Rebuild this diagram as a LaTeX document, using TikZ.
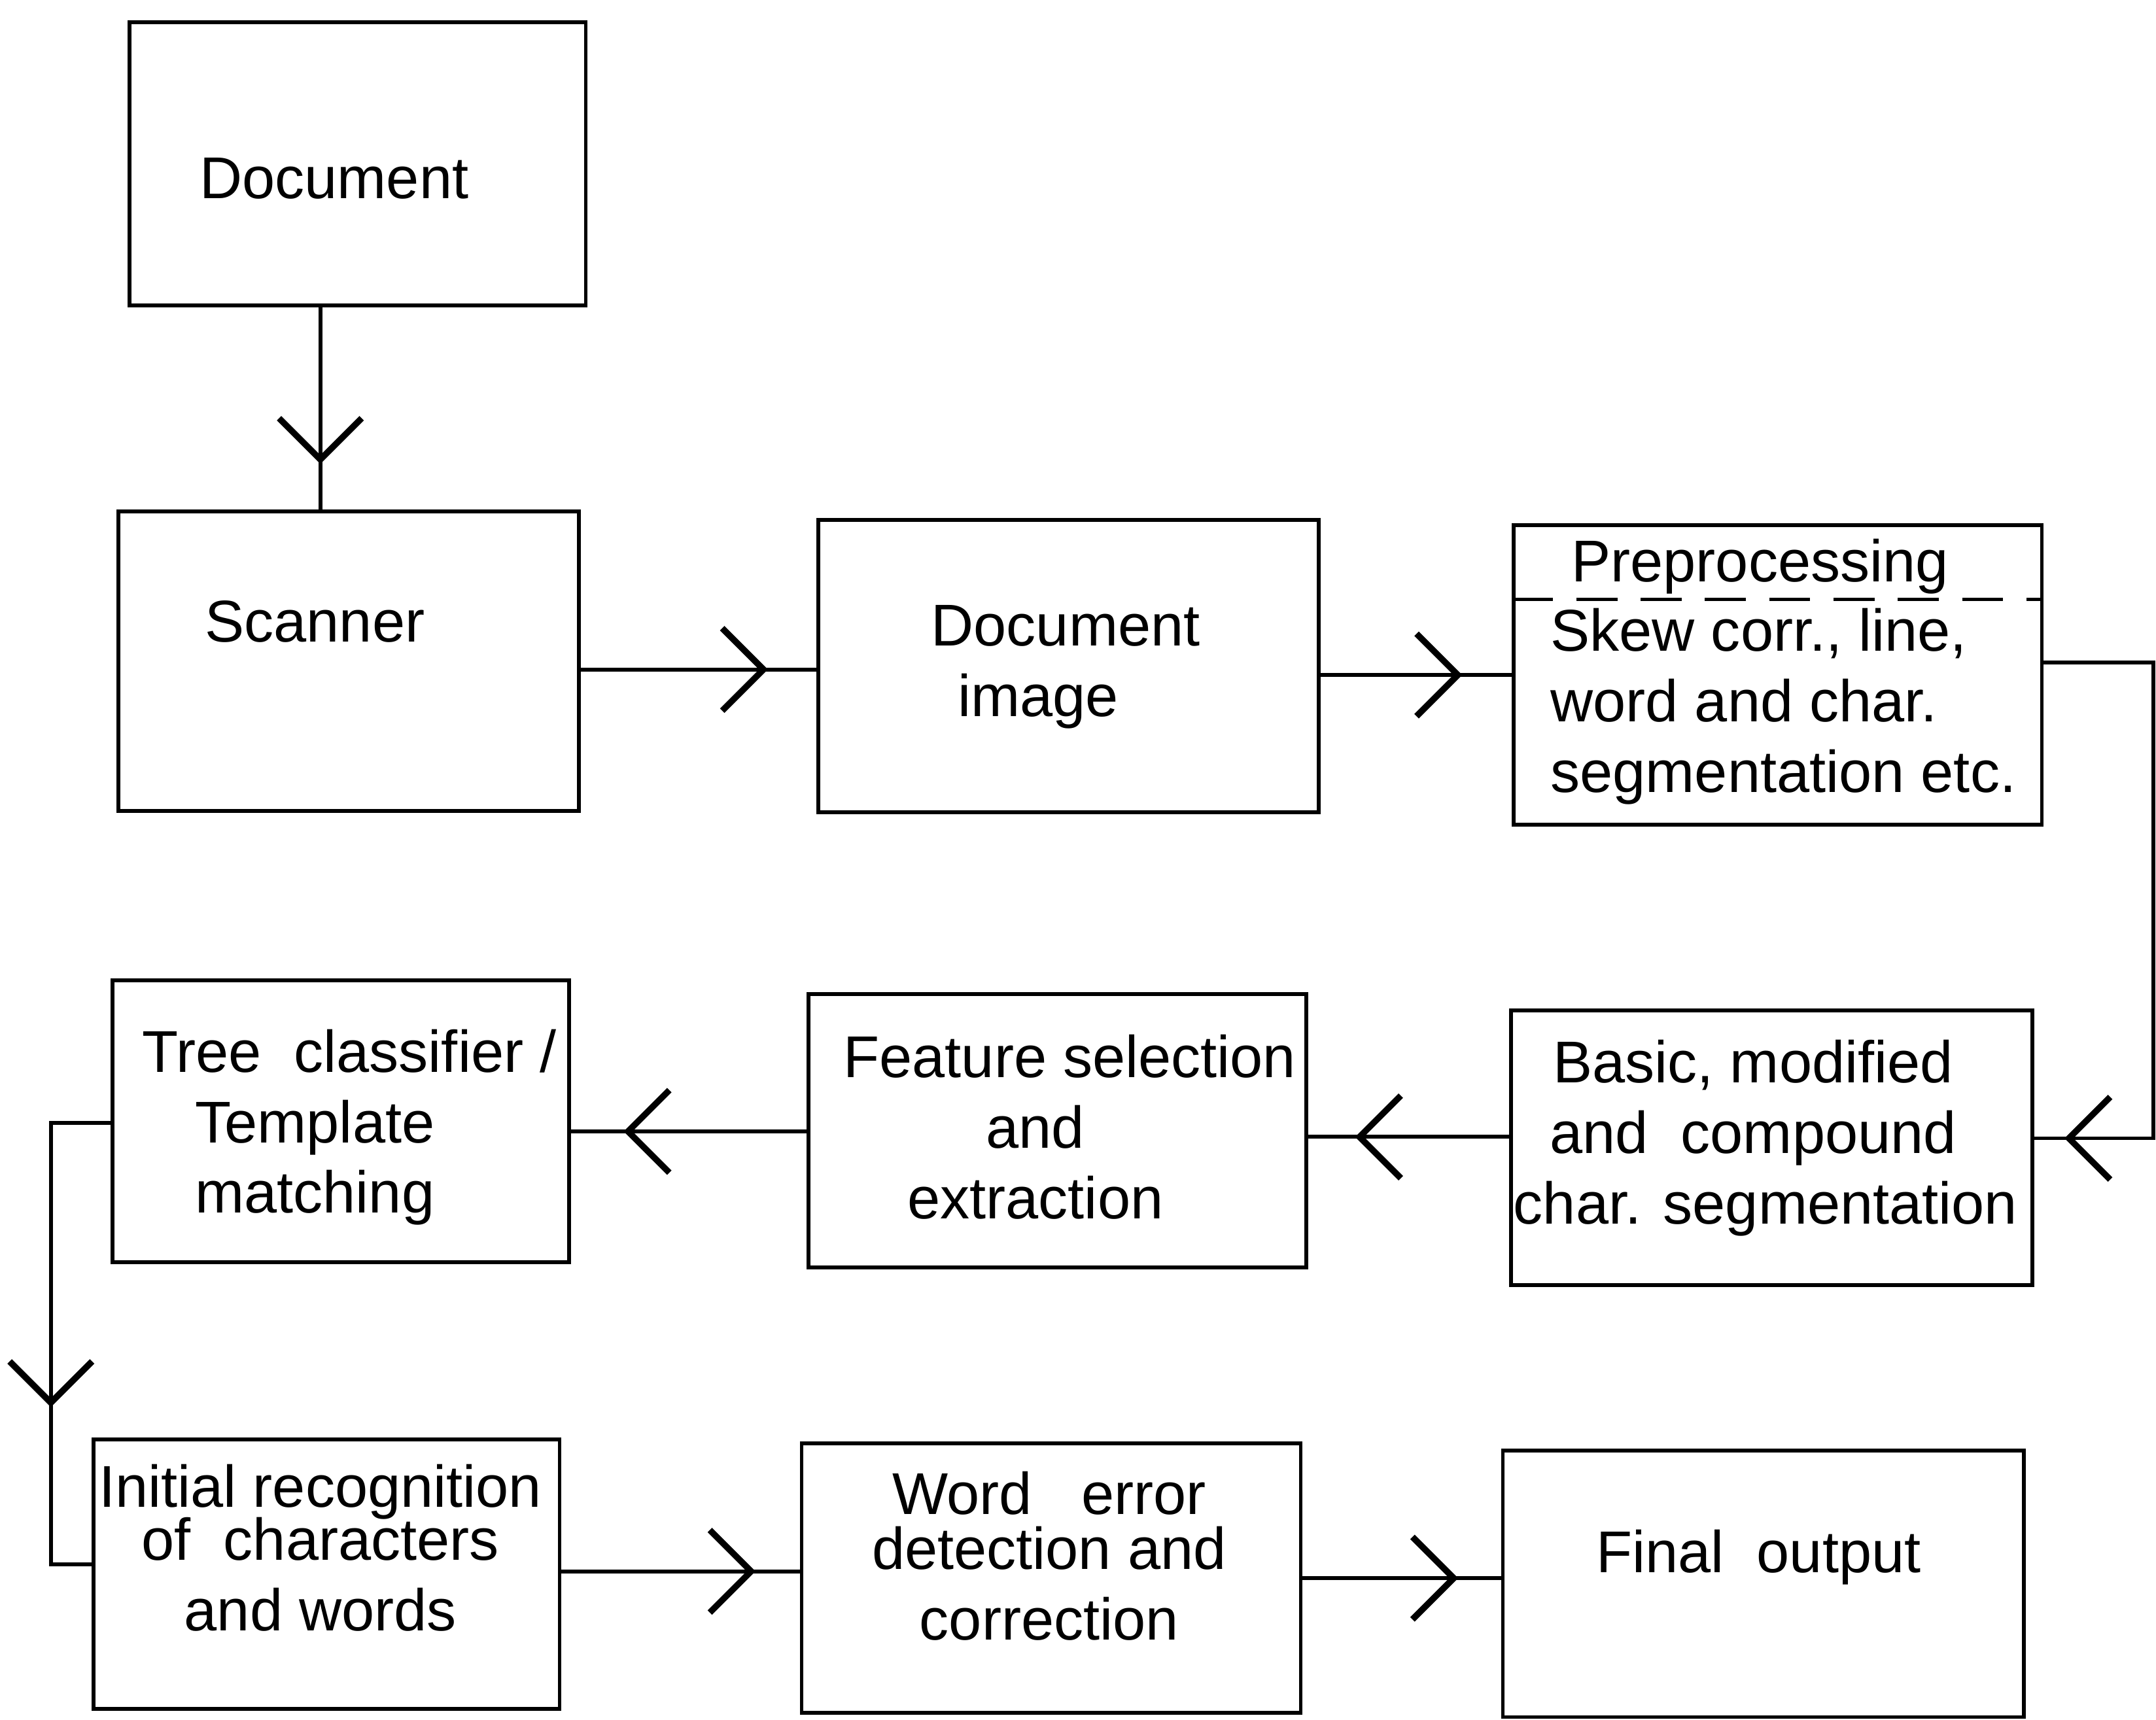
\documentclass[tikz,border=0pt]{standalone}
\usepackage{fontspec}
\setmainfont{Liberation Sans}
\usetikzlibrary{arrows.meta,decorations.markings,fit,calc}

\begin{document}
\begin{tikzpicture}[x=0.01cm,y=-0.01cm,
  box/.style={draw, line width=0.8pt, inner sep=0pt, fit={#1}},
  lbl/.style={inner sep=0pt, align=center, font=\fontsize{12.2}{14.6}\selectfont},
  wire/.style={line width=0.8pt},
  flow/.style={wire, postaction={decorate},
    decoration={markings, mark=at position #1 with
      {\arrow{Straight Barb[length=0.3cm,width=0.6cm,line width=1.3pt]}}}},
]
\useasboundingbox (0,0) rectangle (1568,1251);

% ---- boxes ----
\node[box={(94,16) (426,222)}]     (doc)   {};
\node[box={(86,372) (421,590)}]    (scan)  {};
\node[box={(595,378) (959,591)}]   (img)   {};
\node[box={(1101,382) (1485,600)}] (pre)   {};
\node[box={(82,713) (414,918)}]    (tree)  {};
\node[box={(588,723) (950,922)}]   (feat)  {};
\node[box={(1099,735) (1478,935)}] (basic) {};
\node[box={(68,1047) (407,1243)}]  (init)  {};
\node[box={(583,1050) (946,1246)}] (word)  {};
\node[box={(1093,1055) (1472,1249)}] (final) {};

% dashed rule under the preprocessing heading
\coordinate (sep) at (0,436);
\draw[wire, dash pattern=on 8.5pt off 4.8pt] (sep -| pre.west) -- (sep -| pre.east);

% ---- texts ----
\node[lbl] (tdoc)   at (243,130) {Document};
\node[lbl] (tscan)  at (229,452) {Scanner};
\node[lbl] (timg)   at (765,485) {\hspace*{0.2cm}Document\\image\hspace*{0.2cm}};
\node[lbl] (tpreh)  at (1280,412) {Preprocessing};
\node[lbl, align=left, anchor=west] (tpreb) at (1127,514)
  {Skew corr., line,\\word and char.\\segmentation etc.};
\node[lbl] (ttree)  at (229,820) {\hspace*{0.5cm}Tree~~classifier /\\Template\\matching};
\node[lbl] (tfeat)  at (753,820) {\hspace*{0.5cm}Feature selection\\and\\extraction};
\node[lbl] (tbasic) at (1275,828) {Basic, modified\\and~~compound\\\hspace*{0.18cm}char. segmentation};
\node[lbl] (tinit)  at (233,1126) {Initial recognition\\[-3.6pt]of~~characters\\and words};
\node[lbl] (tword)  at (763,1132) {Word~~~error\\[-3.2pt]detection and\\correction};
\node[lbl] (tfinal) at (1279,1133) {Final~~output};

% ---- connectors ----
\coordinate (c1) at (233,0);
\draw[flow=1.14cm] (doc.south -| c1) -- (scan.north -| c1);

\coordinate (r1) at (0,487);
\draw[flow=1.36cm] (r1 -| scan.east) -- (r1 -| img.west);

\coordinate (r2) at (0,491);
\draw[flow=1.03cm] (r2 -| img.east) -- (r2 -| pre.west);

\coordinate (r3) at (0,482);
\coordinate (r4) at (0,828);
\coordinate (rx) at (1566,0);
\draw[flow=-0.22cm] (r3 -| pre.east) -- (r3 -| rx) -- (r4 -| rx) -- (r4 -| basic.east);

\coordinate (r5) at (0,827);
\draw[flow=1.12cm] (r5 -| basic.west) -- (r5 -| feat.east);

\coordinate (r6) at (0,823);
\draw[flow=1.33cm] (r6 -| feat.west) -- (r6 -| tree.east);

\coordinate (r7) at (0,817);
\coordinate (r8) at (0,1138);
\coordinate (lx) at (37,0);
\draw[flow=2.5cm] (r7 -| tree.west) -- (r7 -| lx) -- (r8 -| lx) -- (r8 -| init.west);

\coordinate (r9) at (0,1143);
\draw[flow=1.41cm] (r9 -| init.east) -- (r9 -| word.west);

\coordinate (r10) at (0,1148);
\draw[flow=1.13cm] (r10 -| word.east) -- (r10 -| final.west);
\end{tikzpicture}
\end{document}
